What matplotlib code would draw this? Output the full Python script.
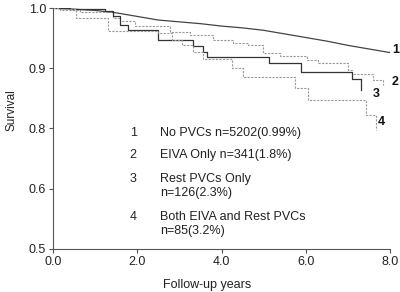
import numpy as np
import matplotlib.pyplot as plt

plt.rcParams['font.family'] = ['Liberation Sans', 'DejaVu Sans']

# Kaplan-Meier style curves (years, survival)
t_none = [0.0, 0.5, 1.0, 1.5, 2.0, 2.5, 3.0, 3.5, 4.0, 4.5, 5.0, 5.5, 6.0, 6.5, 7.0, 7.5, 8.0]
s_none = [1.0, 0.998, 0.996, 0.992, 0.986, 0.980, 0.977, 0.974, 0.970, 0.967, 0.963, 0.957,
          0.951, 0.945, 0.938, 0.932, 0.926]

t_eiva = [0.0, 0.17, 0.64, 1.42, 1.59, 1.95, 2.78, 3.25, 3.80, 4.27, 4.63, 4.99, 5.39, 6.03,
          6.29, 7.00, 7.10, 7.60, 7.83]
s_eiva = [1.0, 0.997, 0.993, 0.984, 0.978, 0.970, 0.960, 0.955, 0.947, 0.942, 0.939, 0.925,
          0.920, 0.914, 0.909, 0.897, 0.890, 0.880, 0.872]

t_rest = [0.0, 0.40, 1.23, 1.42, 1.59, 1.78, 2.49, 3.32, 3.56, 3.66, 5.13, 5.89, 7.10, 7.31]
s_rest = [1.0, 0.998, 0.995, 0.986, 0.972, 0.963, 0.947, 0.937, 0.927, 0.919, 0.908, 0.894,
          0.882, 0.864]

t_both = [0.0, 0.12, 0.55, 1.31, 2.49, 2.82, 3.06, 3.32, 3.56, 4.25, 4.51, 5.74, 6.05, 7.43, 7.67]
s_both = [1.0, 0.998, 0.983, 0.962, 0.959, 0.947, 0.938, 0.927, 0.916, 0.900, 0.885, 0.867,
          0.848, 0.822, 0.797]

curve_labels = ['1', '2', '3', '4']
label_pos = [(8.14, 0.930), (8.12, 0.877), (7.67, 0.858), (7.80, 0.811)]

legend_nums = ['1', '2', '3', '4']
legend_texts = ['No PVCs n=5202(0.99%)', 'EIVA Only n=341(1.8%)',
                'Rest PVCs Only\nn=126(2.3%)', 'Both EIVA and Rest PVCs\nn=85(3.2%)']
legend_rows = [0.508, 0.413, 0.317, 0.159]

xticks = [0.0, 2.0, 4.0, 6.0, 8.0]
xtick_labels = ['0.0', '2.0', '4.0', '6.0', '8.0']
# the printed axis has equally spaced ticks labelled 1.0, 0.9, 0.8, 0.6, 0.5
yticks = [0.6, 0.7, 0.8, 0.9, 1.0]
ytick_labels = ['0.5', '0.6', '0.8', '0.9', '1.0']

fig = plt.figure(figsize=(4.0, 2.92), dpi=100)
ax = fig.add_axes([0.1325, 0.1473, 0.8425, 0.8253])

ax.plot(t_none, s_none, color='#444444', lw=0.9)
ax.plot(t_eiva, s_eiva, color='#999999', lw=0.8, ls=(0, (2, 1.2)), drawstyle='steps-post')
ax.plot(t_rest, s_rest, color='#333333', lw=0.9, drawstyle='steps-post')
ax.plot(t_both, s_both, color='#999999', lw=0.8, ls=(0, (2, 1.2)), drawstyle='steps-post')

for lab, (x, y) in zip(curve_labels, label_pos):
    ax.text(x, y, lab, fontsize=9, fontweight='bold', color='#111111',
            ha='center', va='center', clip_on=False)

for num, txt, y in zip(legend_nums, legend_texts, legend_rows):
    ax.text(0.238, y, num, transform=ax.transAxes, fontsize=9, color='#222222',
            ha='center', va='top')
    ax.text(0.318, y, txt, transform=ax.transAxes, fontsize=9, color='#222222',
            ha='left', va='top', linespacing=1.25)

ax.set_xlim(0, 8)
ax.set_ylim(0.6, 1.0)
ax.set_xticks(xticks)
ax.set_xticklabels(xtick_labels)
ax.set_yticks(yticks)
ax.set_yticklabels(ytick_labels)
ax.tick_params(direction='out', length=3, width=0.8, colors='#555555', labelsize=9,
               labelcolor='#222222', pad=2)

for side in ['top', 'right']:
    ax.spines[side].set_visible(False)
for side in ['left', 'bottom']:
    ax.spines[side].set_color('#555555')
    ax.spines[side].set_linewidth(0.8)

ax.set_xlabel('Follow-up years', fontsize=9, color='#222222')
ax.xaxis.set_label_coords(0.458, -0.125)
ax.set_ylabel('Survival', fontsize=8.5, color='#222222')
ax.yaxis.set_label_coords(-0.105, 0.575)

fig.savefig('out.png', dpi=100)
